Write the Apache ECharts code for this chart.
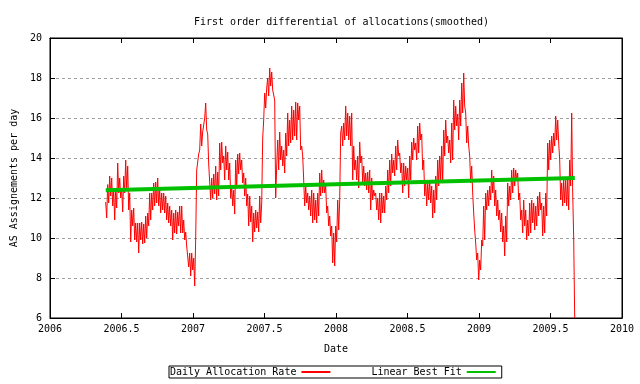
<!DOCTYPE html>
<html>
<head>
<meta charset="utf-8">
<script src="https://cdn.jsdelivr.net/npm/echarts@6/dist/echarts.min.js"></script>
<style>html,body{margin:0;padding:0;background:#fff}#c{width:640px;height:384px}</style>
</head>
<body>
<div id="c"></div>
<script>
const xStart = 2006.3895;
const xStep = 0.006993;
const dailyRate = [
11.8,11.0, 12.67,11.75, 13.1,12.1, 13.0,11.6, 12.4,10.9, 12.5,11.5, 13.75,12.25, 13.0,12.0,
12.5,11.3, 13.1,12.25, 13.9,12.4, 13.6,11.4, 12.25,9.8, 11.4,10.6, 11.5,9.9, 10.75,9.8,
10.75,9.25, 10.75,9.9, 10.8,9.7, 10.7,9.75, 11.1,10.0, 11.25,10.6, 12.25,10.9, 12.25,11.4,
12.75,11.6, 12.8,11.75, 13.0,11.6, 12.4,11.25, 12.25,11.4, 12.25,11.25, 12.1,10.9, 11.75,10.75,
11.6,10.6, 11.4,9.9, 11.25,10.25, 11.4,10.2, 11.3,10.6, 11.6,10.25, 11.6,10.25, 10.9,9.9,
10.3,9.6, 9.6,8.55,
9.25,8.1, 9.25,8.4, 9.0,7.6, 10.0,13.4, 13.3,14.2, 14.4,15.7, 14.6,15.3, 15.2,16.0,
16.75,15.4, 15.2,13.7, 13.6,11.9, 13.0,12.0, 13.2,12.2, 13.6,11.9, 13.3,12.1, 14.75,13.4,
14.8,13.75, 14.1,12.9, 14.6,13.4, 14.3,12.9, 13.75,12.0, 12.6,11.6, 12.4,11.2, 13.9,12.5,
14.2,13.2, 14.25,13.4, 13.9,12.75, 13.25,12.1, 13.0,11.6, 12.2,10.6, 12.1,10.8, 11.6,9.8,
11.25,10.3, 11.4,10.5, 11.3,10.3, 12.1,10.75, 11.75,15.0, 15.9,17.25, 16.5,17.5,
18.0,17.1, 18.5,17.6, 18.3,17.4, 17.5,16.9, 12.0,13.6, 14.9,13.4, 15.3,13.9, 14.6,13.6,
14.4,13.25, 15.25,14.1, 16.25,14.6, 15.9,14.75, 16.6,14.9, 16.4,15.1, 16.8,14.9, 16.75,15.9,
16.6,14.4, 14.6,14.1, 12.9,11.6, 12.6,11.75, 12.25,11.4, 12.1,11.1, 12.4,10.75, 12.25,10.9,
11.9,10.75, 12.25,11.1, 13.25,12.1, 13.4,12.25, 12.9,12.25, 12.6,11.25, 11.6,10.6, 11.1,10.1,
10.6,8.75, 10.25,8.6, 10.6,9.8, 11.9,10.4, 11.9,15.25, 15.6,14.6, 15.75,14.9,
16.6,15.1, 16.25,14.9, 16.1,14.6, 16.25,12.9, 14.6,13.4, 13.9,12.9, 14.1,12.5, 14.8,13.75,
14.1,12.75, 13.6,12.6, 13.25,12.4, 13.3,12.25, 13.4,11.4, 13.0,11.9, 12.4,12.1, 12.25,11.4,
12.0,10.9, 12.25,10.75, 12.25,11.25, 12.1,11.25, 12.6,11.9, 13.4,12.25, 13.9,12.6, 14.2,13.25,
13.9,13.1, 14.6,13.4, 14.9,14.1, 14.25,13.25, 13.75,12.25, 13.75,12.6, 13.6,12.9, 13.5,12.0,
14.1,12.9, 14.8,13.9, 15.0,14.4, 14.75,13.9, 15.6,14.25, 15.75,14.9, 15.2,13.4,
13.9,12.1, 12.9,11.6, 12.75,11.9, 12.9,11.75, 12.6,11.0, 12.4,11.25, 13.1,11.9, 13.9,12.6,
14.1,12.9, 14.6,12.75, 15.4,14.1, 15.9,14.75, 15.1,14.25, 14.9,13.75, 15.75,13.9, 16.9,15.4,
16.6,15.6, 16.2,14.9, 16.9,15.6, 17.75,16.25, 18.25,16.6, 16.25,14.75, 15.6,14.6, 14.1,12.75,
13.6,12.25, 11.25,10.4, 9.75,8.9, 9.25,7.9, 8.9,8.4, 9.9,9.6, 11.6,9.9, 12.25,11.4,
12.4,11.6, 12.6,11.9, 13.4,12.25, 13.1,11.6, 12.4,11.1, 11.9,10.9, 11.4,10.3,
11.25,9.8, 10.6,9.1, 11.1,9.8, 12.75,11.6, 12.6,11.9, 13.4,12.25, 13.5,12.6, 13.4,12.9,
13.25,11.9, 12.25,10.9, 11.4,10.25, 11.9,10.6, 11.4,9.9, 10.9,10.1, 11.75,10.25, 11.9,10.75,
11.75,10.4, 11.6,10.6, 12.1,11.1, 12.3,11.4, 11.75,10.1, 11.6,10.25, 12.25,11.1, 14.75,13.4,
14.9,13.9, 15.1,14.25, 15.25,14.6, 16.1,14.9, 15.9,14.75, 13.9,11.9, 12.75,11.6, 12.9,11.75,
12.9,11.6, 12.9,11.4, 13.9,12.6, 16.25,12.25, 10.0,6.0
];
// Linear best fit end points
const fitX = [2006.39, 2009.67];
const fitY = [12.39, 13.0];
const xTicks = [2006, 2010, 0.5];
const yTicks = [6, 20, 2];

const font = 'DejaVu Sans Mono';
const rateData = dailyRate.map((v, i) => [xStart + i * xStep, v]);
const fitData = fitX.map((x, i) => [x, fitY[i]]);

const chart = echarts.init(document.getElementById('c'), null, {renderer: 'canvas'});
const baseX = {
  type: 'value', min: xTicks[0], max: xTicks[1], interval: xTicks[2],
  axisLine: {show: true, lineStyle: {color: '#000', width: 1}},
  axisTick: {show: true, inside: true, length: 5, lineStyle: {color: '#000'}},
  splitLine: {show: false}
};
const baseY = {
  type: 'value', min: yTicks[0], max: yTicks[1], interval: yTicks[2],
  axisLine: {show: true, lineStyle: {color: '#000', width: 1}},
  axisTick: {show: true, inside: true, length: 5, lineStyle: {color: '#000'}}
};
chart.setOption({
  animation: false,
  backgroundColor: '#fff',
  title: {
    text: 'First order differential of allocations(smoothed)',
    left: 189, top: 12,
    textStyle: {fontFamily: font, fontSize: 10, fontWeight: 'normal', color: '#000'}
  },
  grid: {left: 50, right: 18, top: 38, bottom: 66, show: true, borderColor: '#000', borderWidth: 1, containLabel: false},
  xAxis: [
    Object.assign({}, baseX, {
      position: 'bottom',
      name: 'Date', nameLocation: 'middle', nameGap: 26,
      nameTextStyle: {fontFamily: font, fontSize: 10, color: '#000'},
      axisLabel: {show: true, margin: 6, fontFamily: font, fontSize: 10, color: '#000',
        formatter: v => String(v)}
    }),
    Object.assign({}, baseX, {position: 'top', axisLabel: {show: false}})
  ],
  yAxis: [
    Object.assign({}, baseY, {
      position: 'left',
      name: 'AS Assignements per day', nameLocation: 'middle', nameGap: 30,
      nameTextStyle: {fontFamily: font, fontSize: 10, color: '#000'},
      axisLabel: {show: true, margin: 8, fontFamily: font, fontSize: 10, color: '#000',
        formatter: v => String(v)},
      splitLine: {show: true, showMinLine: false, showMaxLine: false, lineStyle: {color: '#a0a0a0', type: [3, 3], width: 1}}
    }),
    Object.assign({}, baseY, {position: 'right', axisLabel: {show: false}, splitLine: {show: false}})
  ],
  legend: {
    left: 169, top: 366,
    align: 'right',
    itemGap: 40, itemWidth: 29, itemHeight: 10,
    padding: [1, 5, 1, 1],
    borderColor: '#000', borderWidth: 1,
    itemStyle: {color: 'rgba(0,0,0,0)', borderColor: 'rgba(0,0,0,0)', borderWidth: 0, opacity: 0},
    textStyle: {fontFamily: font, fontSize: 10, color: '#000'},
    data: ['Daily Allocation Rate', 'Linear Best Fit']
  },
  series: [
    {
      name: 'Daily Allocation Rate', type: 'line', data: rateData,
      symbol: 'none', showSymbol: false,
      lineStyle: {color: '#ff0000', width: 1}, itemStyle: {color: '#ff0000'},
      clip: true, z: 2
    },
    {
      name: 'Linear Best Fit', type: 'line', data: fitData,
      symbol: 'none', showSymbol: false,
      lineStyle: {color: '#00c000', width: 4}, itemStyle: {color: '#00c000'},
      z: 3
    }
  ]
});
</script>
</body>
</html>
